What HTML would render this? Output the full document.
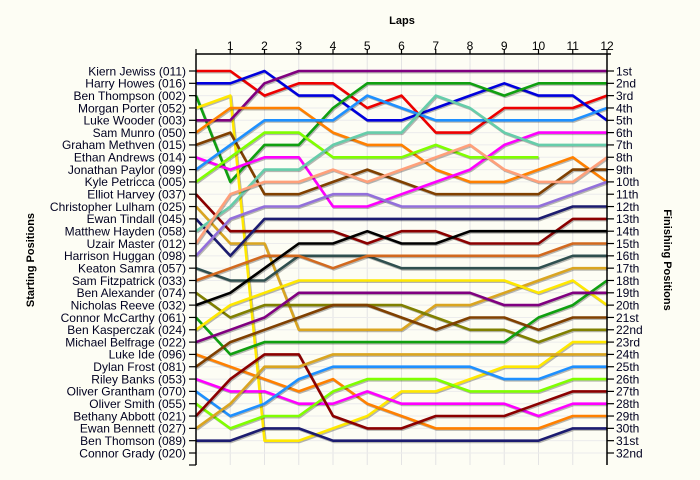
<!DOCTYPE html>
<html><head><meta charset="utf-8"><style>
body{margin:0;background:#fdfdf4;}
svg{display:block;font-family:"Liberation Sans",sans-serif;}
</style></head><body>
<svg id="chart" width="700" height="480" viewBox="0 0 700 480" xmlns="http://www.w3.org/2000/svg">
<rect x="0" y="0" width="700" height="480" fill="#fdfdf4"/>
<g id="grid"></g>
<g id="series"></g>
<g id="axes"></g>
<text x="402" y="24" font-size="11" font-weight="bold" text-anchor="middle">Laps</text>
<text transform="translate(34,260) rotate(-90)" font-size="11" font-weight="bold" text-anchor="middle">Starting Positions</text>
<text transform="translate(664,260) rotate(90)" font-size="11" font-weight="bold" text-anchor="middle">Finishing Positions</text>
</svg>
<script>
const drivers = ["Kiern Jewiss (011)","Harry Howes (016)","Ben Thompson (002)","Morgan Porter (052)","Luke Wooder (003)","Sam Munro (050)","Graham Methven (015)","Ethan Andrews (014)","Jonathan Paylor (099)","Kyle Petricca (005)","Elliot Harvey (037)","Christopher Lulham (025)","Ewan Tindall (045)","Matthew Hayden (058)","Uzair Master (012)","Harrison Huggan (098)","Keaton Samra (057)","Sam Fitzpatrick (033)","Ben Alexander (074)","Nicholas Reeve (032)","Connor McCarthy (061)","Ben Kasperczak (024)","Michael Belfrage (022)","Luke Ide (096)","Dylan Frost (081)","Riley Banks (053)","Oliver Grantham (070)","Oliver Smith (055)","Bethany Abbott (021)","Ewan Bennett (027)","Ben Thomson (089)","Connor Grady (020)"];
const finishLabels = ["1st","2nd","3rd","4th","5th","6th","7th","8th","9th","10th","11th","12th","13th","14th","15th","16th","17th","18th","19th","20th","21st","22nd","23rd","24th","25th","26th","27th","28th","29th","30th","31st","32nd"];
const lapLabels = ["1","2","3","4","5","6","7","8","9","10","11","12"];
const colors = ["#ee0000","#0000dd","#10a010","#ffe800","#800080","#ff8000","#804000","#ff00ff","#1e90ff","#80ff00","#8b0000","#daa520","#1c1c70","#66cdaa","#ffa07a","#9370db","#2f4f4f","#d2691e","#808000","#000000","#10a010","#ffe800","#800080","#ff8000","#804000","#ff00ff","#1e90ff","#80ff00","#8b0000","#daa520","#1c1c70","#999999"];
const p01 = [1,1,3,2,2,4,3,6,6,4,4,4,3];
const p02 = [2,2,1,3,3,5,5,4,3,2,3,3,5];
const p03 = [3,10,7,7,4,2,2,2,2,3,2,2,2];
const p04 = [4,3,31,31,30,29,27,27,26,25,25,23,23];
const p05 = [5,5,2,1,1,1,1,1,1,1,1,1,1];
const p06 = [6,4,4,4,6,7,7,9,10,10,9,8,10];
const p07 = [7,6,11,11,10,9,10,11,11,11,11,9,9];
const p08 = [8,9,8,8,12,12,11,10,9,7,6,6,6];
const p09 = [9,7,5,5,5,3,4,5,5,5,5,5,4];
const p10 = [10,8,6,6,8,8,8,7,8,8,8];
const p11 = [11,14,14,14,14,15,14,14,15,15,15,13,13];
const p12 = [12,15,15,22,22,22,22,20,20,19,18,17,17];
const p13 = [13,16,13,13,13,13,13,13,13,13,13,12,12];
const p14 = [14,12,9,9,7,6,6,3,4,6,7,7,7];
const p15 = [15,11,10,10,9,10,9,8,7,9,10,10,8];
const p16 = [16,13,12,12,11,11,12,12,12,12,12,11,10];
const p17 = [17,18,18,16,16,16,17,17,17,17,17,16,16];
const p18 = [18,17,16,16,17,16,16,16,16,16,16,15,15];
const p19 = [19,21,20,20,20,20,20,21,22,22,23,22,22];
const p20 = [20,19,17,15,15,14,15,15,14,14,14,14,14];
const p21 = [21,24,23,23,23,23,23,23,23,23,21,20,18];
const p22 = [22,20,19,18,18,18,18,18,18,18,19,18,20];
const p23 = [23,22,21,19,19,19,19,19,19,20,20,19,19];
const p24 = [24,25,26,27,26,28,29,30,30,30,30,29,29];
const p25 = [25,23,22,21,20,20,21,22,21,21,22,21,21];
const p26 = [26,27,27,28,28,27,28,28,28,28,29,28,28];
const p27 = [27,29,28,26,25,25,25,25,25,26,26,25,25];
const p28 = [28,30,29,29,27,26,26,26,27,27,27,26,26];
const p29 = [29,26,24,24,29,30,30,29,29,29,28,27,27];
const p30 = [30,28,25,25,24,24,24,24,24,24,24,24,24];
const p31 = [31,31,30,30,31,31,31,31,31,31,31,30,30];
const p32 = [];
const positions = [p01,p02,p03,p04,p05,p06,p07,p08,p09,p10,p11,p12,p13,p14,p15,p16,p17,p18,p19,p20,p21,p22,p23,p24,p25,p26,p27,p28,p29,p30,p31,p32];

const NS = "http://www.w3.org/2000/svg";
const X0 = 196, X1 = 607, Y0 = 54, Y1 = 465;
const nLaps = 12;
function xs(lap){ return X0 + lap*(X1-X0)/nLaps; }
function ys(pos){ return 71 + (pos-1)*(453-71)/31; }
function mk(tag, attrs, parent){ const e=document.createElementNS(NS,tag); for(const k in attrs) e.setAttribute(k,attrs[k]); parent.appendChild(e); return e; }

const grid = document.getElementById('grid');
const axes = document.getElementById('axes');
const series = document.getElementById('series');

for(let i=1;i<=nLaps;i++){
  const g = mk('line',{x1:xs(i),x2:xs(i),y1:Y0,y2:Y1,stroke:'#e4e4e4','stroke-width':1},grid);
  
  
}
for(let r=1;r<=32;r++){
  const g = mk('line',{x1:X0,x2:X1,y1:ys(r),y2:ys(r),stroke:'#ececec','stroke-width':1},grid);
  
  
}

positions.forEach((arr,i)=>{
  if(arr.length<2) return;
  const pts = arr.map((p,l)=>xs(l).toFixed(1)+','+ys(p).toFixed(1)).join(' ');
  const sh = mk('polyline',{points:pts,fill:'none',stroke:'rgba(0,0,0,0.28)','stroke-width':2.6,transform:'translate(1,1.2)','stroke-linejoin':'round'},series);
  
  
  const pl = mk('polyline',{points:pts,fill:'none',stroke:colors[i],'stroke-width':2.6,'stroke-linejoin':'round'},series);
  
  
});

// axes lines
let a;
a = mk('line',{x1:X0,x2:X0,y1:Y0,y2:Y1,stroke:'#000','stroke-width':1.5},axes);
 
a = mk('line',{x1:X1,x2:X1,y1:Y0,y2:Y1,stroke:'#000','stroke-width':1.5},axes);
 
a = mk('line',{x1:X0,x2:X1+4,y1:Y0,y2:Y0,stroke:'#000','stroke-width':1.5},axes);
 
a = mk('line',{x1:X0-7,x2:X0,y1:Y1,y2:Y1,stroke:'#000','stroke-width':1.2},axes);
 
a = mk('line',{x1:X0,x2:X0,y1:Y0-5,y2:Y0,stroke:'#000','stroke-width':1.2},axes);
 

lapLabels.forEach((t,i)=>{
  const tk = mk('line',{x1:xs(i+1),x2:xs(i+1),y1:Y0-5,y2:Y0,stroke:'#000','stroke-width':1.2},axes);
  
  
  const tx = mk('text',{x:xs(i+1),y:50,'font-size':12,'text-anchor':'middle',fill:'#000'},axes);
  tx.textContent = t;
  
  
});
drivers.forEach((d,i)=>{
  const y = ys(i+1);
  const tk = mk('line',{x1:X0-7,x2:X0,y1:y,y2:y,stroke:'#000','stroke-width':1.2},axes);
  
  
  const tx = mk('text',{x:186,y:y+4.3,'font-size':12,'text-anchor':'end',fill:'#000020'},axes);
  tx.textContent = d;
  
  
});
finishLabels.forEach((f,i)=>{
  const y = ys(i+1);
  const tk = mk('line',{x1:X1,x2:X1+7,y1:y,y2:y,stroke:'#000','stroke-width':1.2},axes);
  
  
  const tx = mk('text',{x:616,y:y+4.3,'font-size':12,'text-anchor':'start',fill:'#000020'},axes);
  tx.textContent = f;
  
  
});
</script>
</body></html>
